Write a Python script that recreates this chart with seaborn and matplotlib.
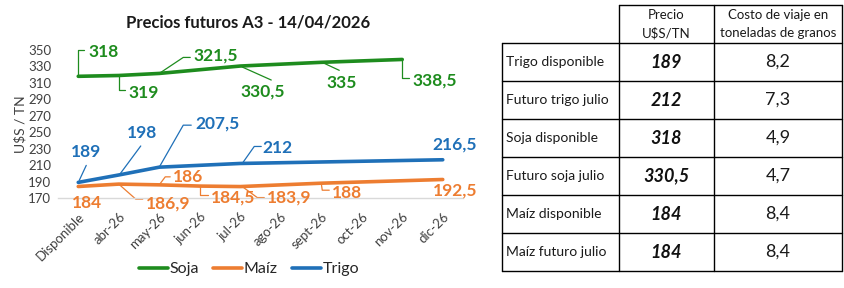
import numpy as np
import pandas as pd
import seaborn as sns
import matplotlib.pyplot as plt

# ================= DATA =================
meses = ["Disponible", "abr-26", "may-26", "jun-26", "jul-26",
         "ago-26", "sept-26", "oct-26", "nov-26", "dic-26"]
nan = np.nan
soja = [318, 319, 321.5, nan, 330.5, nan, 335, nan, 338.5, nan]
maiz = [184, 186.9, 186, 184.5, 183.9, nan, 188, nan, nan, 192.5]
trigo = [189, 198, 207.5, nan, 212, nan, nan, nan, nan, 216.5]

tabla_filas = ["Trigo disponible", "Futuro trigo julio", "Soja disponible",
               "Futuro soja julio", "Maíz disponible", "Maíz futuro julio"]
tabla_precio = ["189", "212", "318", "330,5", "184", "184"]
tabla_costo = ["8,2", "7,3", "4,9", "4,7", "8,4", "8,4"]

colores = {"Soja": "#1E8C1E", "Maíz": "#ED7D31", "Trigo": "#1F70B8"}

# label placement (pixel offsets from the point: text pos, anchor, leader path)
etiquetas = {
    "Soja": [
        (0, (10, -24), "left", [(0, 0), (0, -26), (6, -26)]),
        (1, (10, 18), "left", [(0, 0), (0, 15), (6, 15)]),
        (2, (34, -18), "left", [(0, 0), (24, -16), (31, -16)]),
        (4, (0, 25), "left", [(2, 1), (31, 14)]),
        (6, (5, 21), "left", [(3, 1), (18, 8)]),
        (8, (10, 21), "left", [(0, 0), (0, 19), (7, 19)]),
    ],
    "Trigo": [
        (0, (8, -30), "center", [(1, -2), (8, -17)]),
        (1, (23, -42), "center", [(2, -2), (22, -29)]),
        (2, (36, -44), "left", [(0, 0), (24, -42), (32, -42)]),
        (4, (22, -15), "left", [(2, 0), (14, -17), (21, -17)]),
        (9, (12, -15), "center", None),
    ],
    "Maíz": [
        (0, (9, 17), "center", None),
        (1, (27, 19), "left", [(0, 0), (17, 15), (24, 15)]),
        (2, (14, -8), "left", [(0, 0), (6, -8), (11, -8)]),
        (3, (11, 11), "left", [(0, 1), (0, 9), (8, 9)]),
        (4, (27, 11), "left", [(2, 0), (17, 11), (24, 11)]),
        (6, (11, 10), "left", [(0, 0), (1, 7), (8, 7)]),
        (9, (12, 11), "center", None),
    ],
}

# ================= LONG FORMAT =================
series = {"Soja": soja, "Maíz": maiz, "Trigo": trigo}
df = pd.DataFrame([
    {"pos": i, "mes": m, "serie": s, "precio": v}
    for s, vals in series.items() for i, (m, v) in enumerate(zip(meses, vals))
]).dropna()

sns.set_style("white")
plt.rcParams["font.family"] = ["Lato", "DejaVu Sans"]

fig = plt.figure(figsize=(8.45, 2.88), dpi=100)
W, H = 845, 288
ax = fig.add_axes([58 / W, 1 - 198 / H, 405 / W, 148 / H])

sns.lineplot(data=df, x="pos", y="precio", hue="serie", palette=colores,
             hue_order=["Soja", "Maíz", "Trigo"], linewidth=2.6, ax=ax,
             sort=True, estimator=None)

ax.set_xlim(-0.5, len(meses) - 0.5)
ax.set_ylim(170, 350)
ax.set_yticks(range(170, 351, 20))
ax.set_xticks(range(len(meses)))
ax.set_xticklabels(meses, rotation=45, ha="right", rotation_mode="anchor",
                   fontsize=9.5, color="#404040")
ax.tick_params(axis="y", labelsize=9.5, labelcolor="#404040", length=0, pad=5)
ax.tick_params(axis="x", length=0, pad=9)
ax.set_xlabel("")
ax.set_ylabel("U$S / TN", fontsize=10, color="#404040", labelpad=1)
for side in ["top", "right", "left"]:
    ax.spines[side].set_visible(False)
ax.spines["bottom"].set_color("#D9D9D9")
ax.spines["bottom"].set_linewidth(1)

ax.legend_.remove()
handles = [plt.Line2D([], [], color=colores[s], lw=2.6) for s in ["Soja", "Maíz", "Trigo"]]
fig.legend(handles, ["Soja", "Maíz", "Trigo"], loc="center", ncol=3,
           bbox_to_anchor=(249 / W, 1 - 269 / H), frameon=False, fontsize=11.5,
           handlelength=1.8, handletextpad=0.1, columnspacing=0.9)

fig.text(248 / W, 1 - 22 / H, "Precios futuros A3 - 14/04/2026",
         ha="center", va="center", fontsize=12, fontweight="bold", color="#1a1a1a")

# ================= DATA LABELS =================
fig.canvas.draw()
inv = ax.transData.inverted()


def desplazar(x, y, dx, dy):
    base = ax.transData.transform((x, y))
    return inv.transform(base + np.array([dx, -dy]))


def fmt(v):
    return f"{v:g}".replace(".", ",")


for s, specs in etiquetas.items():
    vals = series[s]
    for idx, (tx, ty), ha, camino in specs:
        v = vals[idx]
        ax.annotate(fmt(v), (idx, v), xytext=(tx, -ty), textcoords="offset pixels",
                    ha=ha, va="center", fontsize=12.5, fontweight="bold",
                    color=colores[s], annotation_clip=False)
        if camino:
            pts = np.array([desplazar(idx, v, dx, dy) for dx, dy in camino])
            ax.plot(pts[:, 0], pts[:, 1], color=colores[s], lw=0.9, clip_on=False)

# ================= TABLE =================
tx = fig.add_axes([0, 0, 1, 1])
tx.set_xlim(0, W)
tx.set_ylim(H, 0)
tx.axis("off")

col_x = [502, 619, 714, 842]
fila_y = [43 + 38 * i for i in range(7)]
linea = dict(color="black", lw=1)

tx.plot([619, 842], [5, 5], **linea)
for x in col_x[1:]:
    tx.plot([x, x], [5, fila_y[-1]], **linea)
tx.plot([502, 502], [fila_y[0], fila_y[-1]], **linea)
for y in fila_y:
    tx.plot([502, 842], [y, y], **linea)

tx.text(666, 15, "Precio", ha="center", va="center", fontsize=9.5, color="#1a1a1a")
tx.text(666, 33, "U$S/TN", ha="center", va="center", fontsize=9.5, color="#1a1a1a")
tx.text(778, 15, "Costo de viaje en", ha="center", va="center", fontsize=9.5, color="#1a1a1a")
tx.text(778, 33, "toneladas de granos", ha="center", va="center", fontsize=9.5, color="#1a1a1a")

for i, (nombre, precio, costo) in enumerate(zip(tabla_filas, tabla_precio, tabla_costo)):
    yc = (fila_y[i] + fila_y[i + 1]) / 2
    tx.text(506, yc, nombre, ha="left", va="center", fontsize=10, color="#1a1a1a")
    tx.text(666, yc, precio, ha="center", va="center", fontsize=13,
            fontweight="bold", fontstyle="italic", color="#111111")
    tx.text(778, yc, costo, ha="center", va="center", fontsize=13, color="#1a1a1a")

fig.savefig("out.png", dpi=100)
